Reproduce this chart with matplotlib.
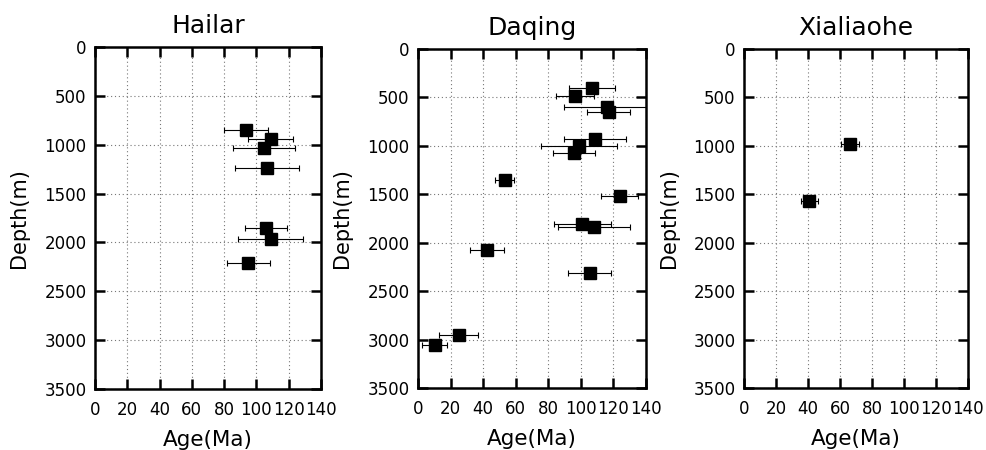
import matplotlib
matplotlib.use("Agg")
import matplotlib.pyplot as plt

plt.rcParams['font.family'] = ['DejaVu Sans']

titles = ["Hailar", "Daqing", "Xialiaohe"]

hailar_age = [93.5, 108.8, 104.7, 106.5, 105.7, 108.8, 95.0]
hailar_depth = [848, 943, 1031, 1238, 1850, 1969, 2214]
hailar_err = [13.8, 13.7, 19.0, 19.8, 13.0, 20.0, 13.3]

daqing_age = [106.8, 96.4, 115.9, 117.1, 108.9, 99.0, 96.0, 53.4, 124.0, 101.0, 108.3, 42.3, 105.4, 25.1, 10.2]
daqing_depth = [400, 486, 597, 648, 934, 1000, 1072, 1349, 1521, 1803, 1838, 2079, 2314, 2948, 3055]
daqing_err = [14.0, 11.8, 26.0, 13.0, 19.0, 23.5, 13.0, 5.8, 11.3, 17.5, 22.0, 10.3, 13.4, 12.0, 7.7]

xia_age = [66.2, 40.8]
xia_depth = [979, 1566]
xia_err = [5.4, 5.5]

x_ticks = [0, 20, 40, 60, 80, 100, 120, 140]
y_ticks = [0, 500, 1000, 1500, 2000, 2500, 3000, 3500]

datasets = [
    (hailar_age, hailar_depth, hailar_err),
    (daqing_age, daqing_depth, daqing_err),
    (xia_age, xia_depth, xia_err),
]

fig = plt.figure(figsize=(9.86, 4.5), dpi=100)
rects = [
    [0.0963, 0.1356, 0.2292, 0.7600],
    [0.4239, 0.1378, 0.2312, 0.7533],
    [0.7546, 0.1378, 0.2272, 0.7533],
]

for rect, title, (age, depth, err) in zip(rects, titles, datasets):
    ax = fig.add_axes(rect)
    ax.errorbar(age, depth, xerr=err, fmt='s', color='black', ecolor='black',
                elinewidth=0.8, capsize=2.5, capthick=0.8, markersize=8.5,
                markeredgecolor='black', markerfacecolor='black', zorder=3)
    ax.set_xlim(0, 140)
    ax.set_ylim(3500, 0)
    ax.set_xticks(x_ticks)
    ax.set_yticks(y_ticks)
    ax.grid(True, color='#777777', linestyle=(0, (1, 2.5)), linewidth=0.8, zorder=0)
    ax.tick_params(axis='both', direction='in', length=7, width=1.8,
                   top=True, right=True, labelsize=12)
    ax.tick_params(axis='x', pad=9)
    ax.tick_params(axis='y', pad=6)
    for s in ax.spines.values():
        s.set_linewidth(1.8)
    ax.set_title(title, fontsize=18, pad=10)
    ax.set_xlabel("Age(Ma)", fontsize=15.5)
    ax.set_ylabel("Depth(m)", fontsize=15)
    ax.xaxis.set_label_coords(0.5, -0.12)
    ax.yaxis.set_label_coords(-0.29, 0.5)

fig.savefig("out.png", dpi=100)
